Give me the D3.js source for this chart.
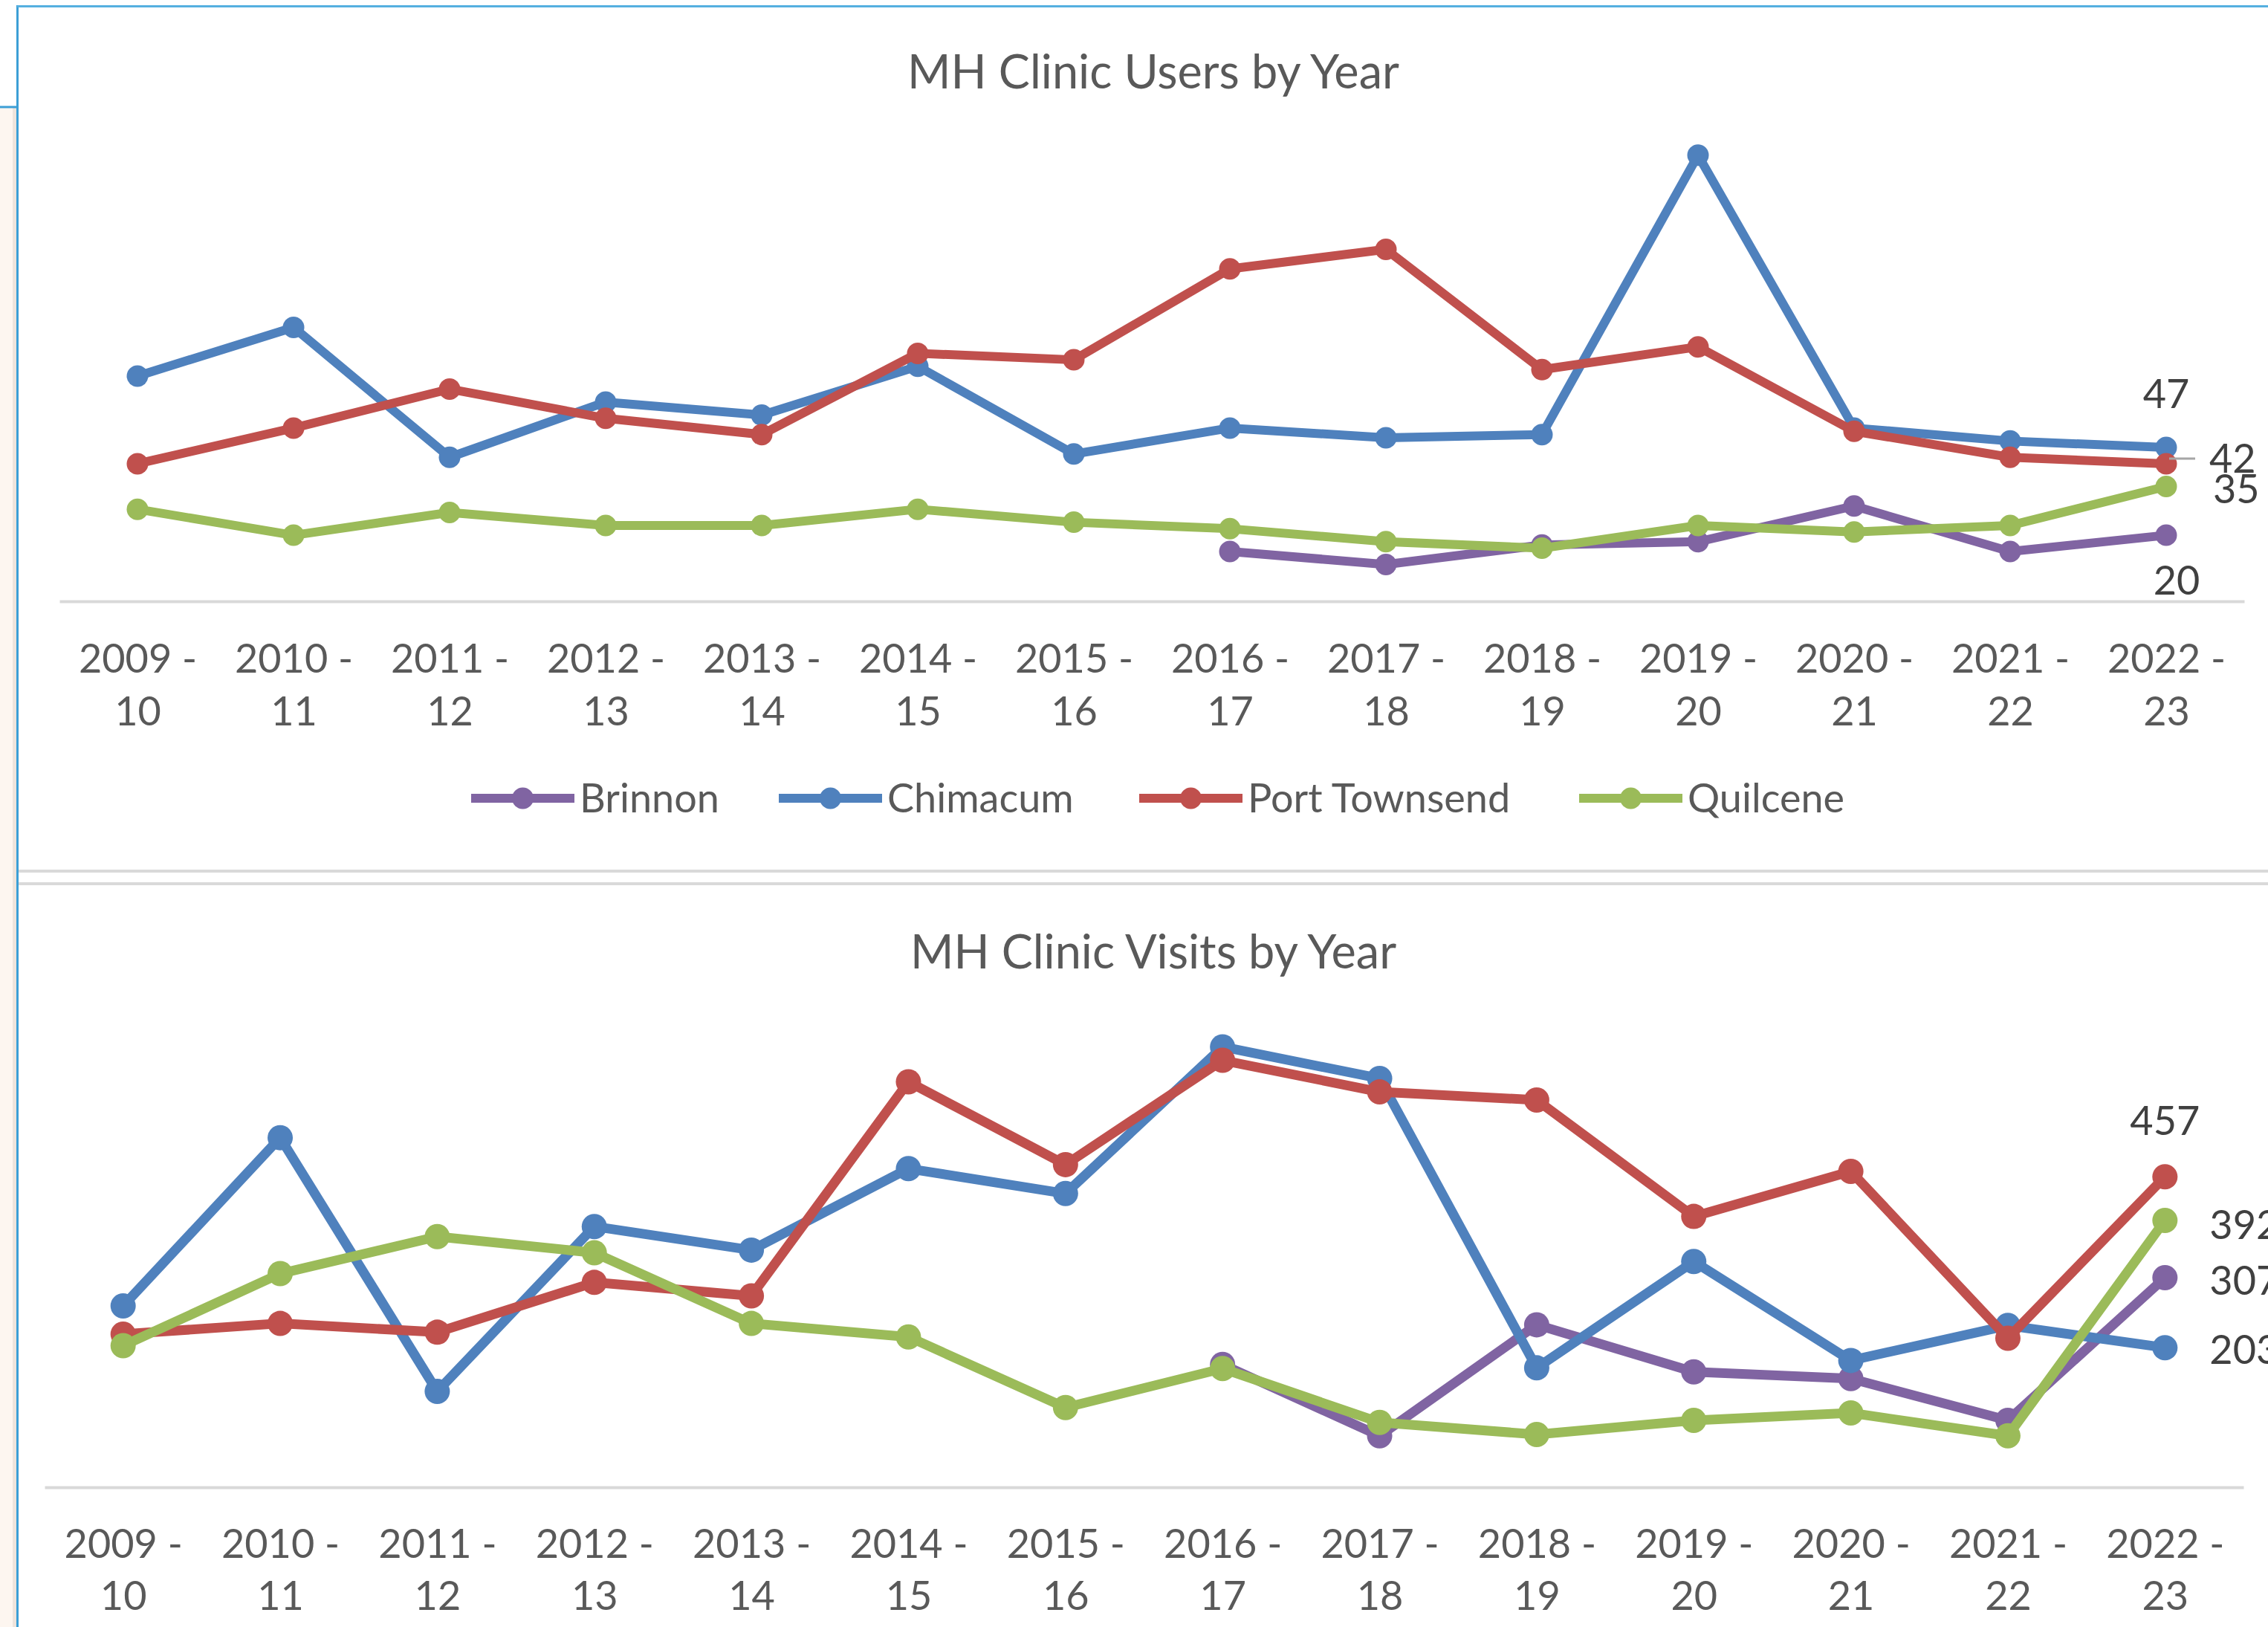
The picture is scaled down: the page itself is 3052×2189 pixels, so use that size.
<!DOCTYPE html>
<html>
<head>
<meta charset="utf-8">
<script src="https://cdn.jsdelivr.net/npm/d3@7"></script>
<style>
  body { margin: 0; background: #fff; }
  svg text { font-family: Lato, "Open Sans", sans-serif; }
</style>
</head>
<body>
<div class="sheet"></div>
<script>
// categories (fiscal years)
var categories = ["2009-10", "2010-11", "2011-12", "2012-13", "2013-14", "2014-15", "2015-16",
                  "2016-17", "2017-18", "2018-19", "2019-20", "2020-21", "2021-22", "2022-23"];

var seriesNames = ["Brinnon", "Chimacum", "Port Townsend", "Quilcene"];

// MH clinic users by year
var usersBrinnon      = [null, null, null, null, null, null, null, 15, 11, 17, 18, 29, 15, 20];
var usersChimacum     = [69, 84, 44, 61, 57, 72, 45, 53, 50, 51, 137, 53, 49, 47];
var usersPortTownsend = [42, 53, 65, 56, 51, 76, 74, 102, 108, 71, 78, 52, 44, 42];
var usersQuilcene     = [28, 20, 27, 23, 23, 28, 24, 22, 18, 16, 23, 21, 23, 35];

// MH clinic visits by year
var visitsBrinnon      = [null, null, null, null, null, null, null, 178, 72, 237, 167, 157, 95, 307];
var visitsChimacum     = [265, 515, 138, 383, 348, 469, 432, 650, 603, 173, 331, 184, 236, 203];
var visitsPortTownsend = [223, 239, 226, 300, 280, 598, 475, 630, 583, 571, 398, 465, 217, 457];
var visitsQuilcene     = [206, 313, 368, 344, 239, 219, 114, 172, 92, 74, 95, 106, 72, 392];

// y axis extents (axis itself is hidden, like the original)
var usersYMax = 160;
var visitsYMax = 700;

var colors = ["#8064A2", "#4F81BD", "#C0504D", "#9BBB59"];

var width = 3052;
var height = 2189;

var svg = d3.select(".sheet").append("svg")
  .attr("width", width)
  .attr("height", height);

// worksheet background / window frame bits
svg.append("rect").attr("x", 0).attr("y", 0).attr("width", width).attr("height", height).attr("fill", "#fff");
svg.append("rect").attr("x", 0).attr("y", 144).attr("width", 23).attr("height", height - 144).attr("fill", "#fdf6f0");
svg.append("rect").attr("x", 17).attr("y", 144).attr("width", 6).attr("height", height - 144).attr("fill", "#eee4dc");
svg.append("line").attr("x1", 0).attr("x2", 23).attr("y1", 144).attr("y2", 144)
  .attr("stroke", "#3c9fd6").attr("stroke-width", 3);
svg.append("line").attr("x1", 23.5).attr("x2", 23.5).attr("y1", 7).attr("y2", height)
  .attr("stroke", "#3c9fd6").attr("stroke-width", 3);
svg.append("line").attr("x1", 23).attr("x2", width).attr("y1", 8.5).attr("y2", 8.5)
  .attr("stroke", "#55b0e0").attr("stroke-width", 3);

// chart borders between the two charts
svg.append("line").attr("x1", 25).attr("x2", width).attr("y1", 1172).attr("y2", 1172)
  .attr("stroke", "#d9d9d9").attr("stroke-width", 4);
svg.append("line").attr("x1", 25).attr("x2", width).attr("y1", 1189).attr("y2", 1189)
  .attr("stroke", "#d9d9d9").attr("stroke-width", 4);

function drawChart(opt) {
  var g = svg.append("g");

  var x = d3.scalePoint()
    .domain(categories)
    .range(opt.xRange)
    .padding(0.5);

  var y = d3.scaleLinear()
    .domain([0, opt.yMax])
    .range([opt.zeroY, opt.zeroY - opt.yMax * opt.pxPerUnit]);

  // title
  g.append("text")
    .attr("x", 1552)
    .attr("y", opt.titleY)
    .attr("text-anchor", "middle")
    .attr("font-size", "63px")
    .attr("fill", "#595959")
    .text(opt.title);

  // x axis with two line labels
  var xAxis = d3.axisBottom(x).tickSize(0).tickSizeOuter(0);
  var axisG = g.append("g")
    .attr("transform", "translate(0," + opt.axisY + ")")
    .call(xAxis);
  axisG.select(".domain").attr("stroke", "#d9d9d9").attr("stroke-width", 4);
  axisG.selectAll(".tick text").each(function(d) {
    var t = d3.select(this);
    t.text(null).attr("dy", null).attr("y", null)
      .attr("font-size", "54px")
      .attr("fill", "#595959");
    t.append("tspan").attr("x", 0).attr("y", opt.label1).text(d.slice(0, 4) + " -");
    t.append("tspan").attr("x", 0).attr("y", opt.label2).text(d.slice(5));
  });

  var line = d3.line()
    .defined(function(d) { return d != null; })
    .x(function(d, i) { return x(categories[i]); })
    .y(function(d) { return y(d); });

  opt.series.forEach(function(values, s) {
    g.append("path")
      .attr("fill", "none")
      .attr("stroke", colors[s])
      .attr("stroke-width", opt.lineWidth)
      .attr("stroke-linejoin", "round")
      .attr("d", line(values));

    g.selectAll(".dot" + s)
      .data(values.map(function(v, i) { return {v: v, c: categories[i]}; })
                  .filter(function(d) { return d.v != null; }))
      .enter().append("circle")
      .attr("cx", function(d) { return x(d.c); })
      .attr("cy", function(d) { return y(d.v); })
      .attr("r", opt.markerR)
      .attr("fill", colors[s]);
  });

  // value labels on the last year
  var last = categories[categories.length - 1];
  opt.labels.forEach(function(lb) {
    var v = opt.series[lb.s][categories.length - 1];
    var px = x(last), py = y(v);
    if (lb.leader) {
      g.append("line")
        .attr("x1", px + 4).attr("x2", px + 39)
        .attr("y1", py - 7).attr("y2", py - 7)
        .attr("stroke", "#a6a6a6").attr("stroke-width", 3);
    }
    g.append("text")
      .attr("x", px + lb.dx)
      .attr("y", py + lb.dy)
      .attr("text-anchor", lb.anchor)
      .attr("font-size", "54px")
      .attr("fill", "#404040")
      .text(v);
  });

  return g;
}

var usersChart = drawChart({
  title: "MH Clinic Users by Year",
  series: [usersBrinnon, usersChimacum, usersPortTownsend, usersQuilcene],
  yMax: usersYMax,
  zeroY: 807.5,
  pxPerUnit: 4.37,
  xRange: [80, 3020],
  axisY: 809,
  titleY: 119,
  label1: 96,
  label2: 167,
  lineWidth: 12,
  markerR: 14.5,
  labels: [
    {s: 1, dx: 0, dy: -53, anchor: "middle"},
    {s: 2, dx: 58, dy: 12, anchor: "start", leader: true},
    {s: 3, dx: 63, dy: 22, anchor: "start"},
    {s: 0, dx: 14, dy: 80, anchor: "middle"}
  ]
});

// legend (only shown for the users chart)
var legendX = [634, 1048, 1533, 2125];
var legend = usersChart.append("g").attr("transform", "translate(0,1074)");
seriesNames.forEach(function(name, s) {
  legend.append("line")
    .attr("x1", legendX[s]).attr("x2", legendX[s] + 139)
    .attr("y1", 0).attr("y2", 0)
    .attr("stroke", colors[s]).attr("stroke-width", 12);
  legend.append("circle")
    .attr("cx", legendX[s] + 69.5).attr("cy", 0).attr("r", 14.5)
    .attr("fill", colors[s]);
  legend.append("text")
    .attr("x", legendX[s] + 146)
    .attr("y", 19)
    .attr("font-size", "54px")
    .attr("fill", "#595959")
    .text(name);
});

drawChart({
  title: "MH Clinic Visits by Year",
  series: [visitsBrinnon, visitsChimacum, visitsPortTownsend, visitsQuilcene],
  yMax: visitsYMax,
  zeroY: 1997,
  pxPerUnit: 0.9055,
  xRange: [60, 3019],
  axisY: 2001,
  titleY: 1303,
  label1: 95,
  label2: 165,
  lineWidth: 13,
  markerR: 17,
  labels: [
    {s: 2, dx: 0, dy: -56, anchor: "middle"},
    {s: 3, dx: 60, dy: 25, anchor: "start"},
    {s: 0, dx: 60, dy: 23, anchor: "start"},
    {s: 1, dx: 60, dy: 22, anchor: "start"}
  ]
});
</script>
</body>
</html>
